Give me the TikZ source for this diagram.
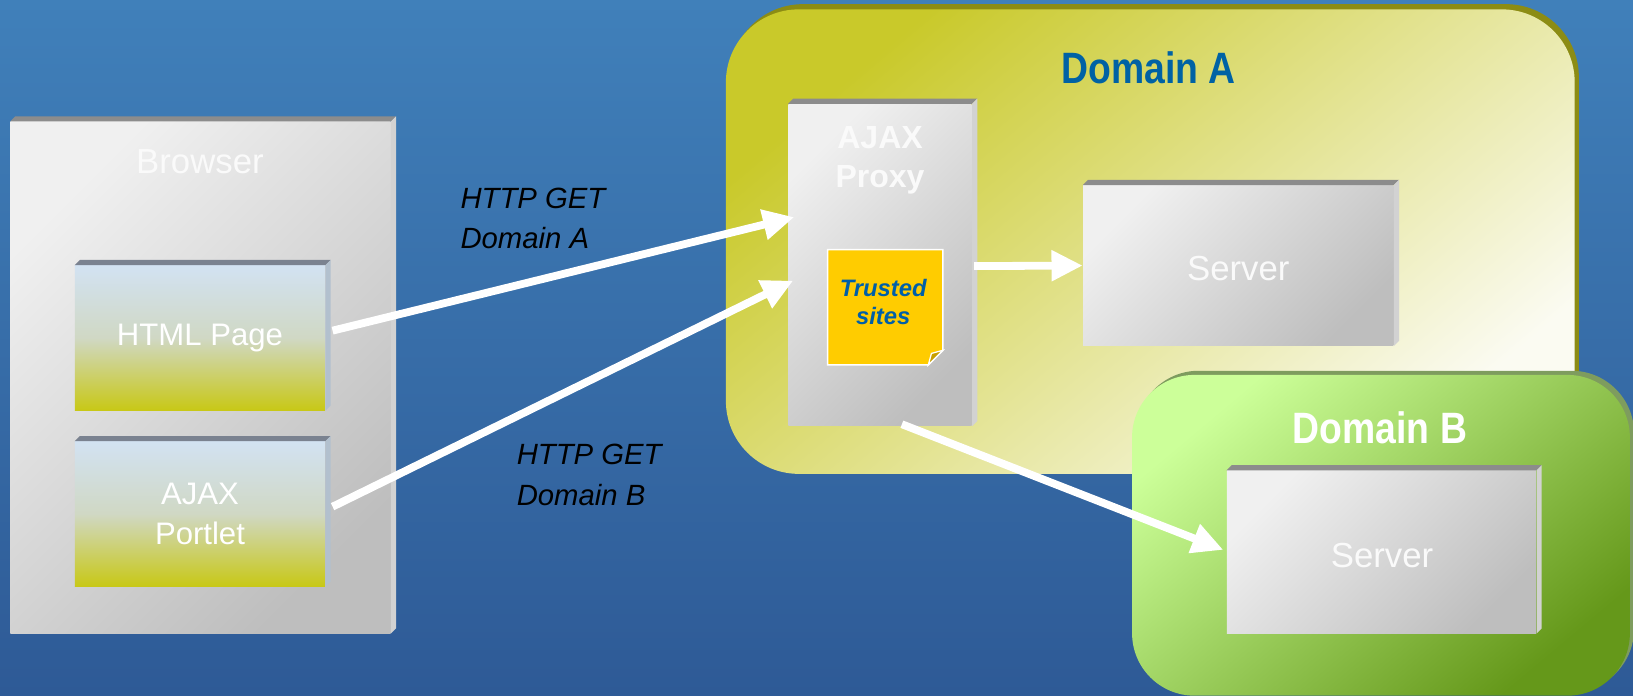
\documentclass[tikz,border=0pt]{standalone}
\usepackage{fontspec}
\setmainfont{Liberation Sans}
\usepackage{graphicx}
\usetikzlibrary{arrows.meta,calc,fit}
\definecolor{bgtop}{HTML}{4080BA}
\definecolor{bgbot}{HTML}{2E5A96}
\definecolor{domAtl}{HTML}{C9C92A}
\definecolor{domAbr}{HTML}{FBFBF2}
\definecolor{domAsh}{HTML}{8C8C14}
\definecolor{domBtl}{HTML}{CCFF99}
\definecolor{domBbr}{HTML}{65981A}
\definecolor{domBsh}{HTML}{7E9C5E}
\definecolor{boxlt}{HTML}{F0F0F0}
\definecolor{boxdk}{HTML}{BEBEBE}
\definecolor{bevtop}{HTML}{8C8C8C}
\definecolor{bevside}{HTML}{D2D2D2}
\definecolor{blutop}{HTML}{D2E2F2}
\definecolor{blumid}{HTML}{D0D8C4}
\definecolor{yelbot}{HTML}{C8C816}
\definecolor{bbevtop}{HTML}{7A8290}
\definecolor{bbevside}{HTML}{B2C0CE}
\definecolor{notefill}{HTML}{FFCC00}
\definecolor{notefold}{HTML}{C8A000}
\definecolor{notetext}{HTML}{005FA8}
\definecolor{domAtext}{HTML}{0062A4}
\newcommand\mybevel[3]{%
  \fill[#2] (#1.north west) -- ($(#1.north west)+(5,-5)$) -- ($(#1.north east)+(5,-5)$) -- (#1.north east) -- cycle;
  \fill[#3] (#1.north east) -- ($(#1.north east)+(5,-5)$) -- ($(#1.south east)+(5,-5)$) -- (#1.south east) -- cycle;}
\begin{document}
\begin{tikzpicture}[x=0.02cm,y=-0.02cm,
  graybox/.style={inner sep=0pt, top color=boxlt, bottom color=boxdk, shading angle=45},
  bluebox/.style={inner sep=0pt, top color=blutop, bottom color=yelbot, middle color=blumid},
  lbl/.style={text=white, align=center, font=\fontsize{17}{21.5}\selectfont},
  srv/.style={text=white!96!gray, font=\fontsize{19}{23}\selectfont},
  domlbl/.style={font=\bfseries\fontsize{24}{28}\selectfont},
  getlbl/.style={anchor=west, align=left, text=black, font=\itshape\fontsize{16}{22}\selectfont},
  arr/.style={draw=white, line width=0.15cm, -{Triangle[length=0.6cm,width=0.56cm]}}]
\useasboundingbox (0,0) rectangle (1568,668);
\shade[top color=bgtop, bottom color=bgbot] (0,0) rectangle (1568,668);
% Domain A
\fill[domAsh, rounded corners=1.4cm] (701,4) rectangle (1516,451);
\node[fit={(697,9)(1512,455)}, inner sep=0pt, rounded corners=1.4cm, top color=domAtl, bottom color=domAbr, shading angle=40] (domA) {};
\node[domlbl, text=domAtext] (domAlbl) at (1103,65) {\scalebox{0.85}[1]{Domain A}};
% Browser
\node[graybox, fit={(10,117)(375,608)}] (browser) {};
\mybevel{browser}{bevtop}{bevside}
\node[srv] (browserlbl) at (192,155) {Browser};
\node[bluebox, fit={(72,255)(312,394)}] (html) {};
\mybevel{html}{bbevtop}{bbevside}
\node[lbl] (htmllbl) at (html.center) {HTML Page};
\node[bluebox, fit={(72,424)(312,563)}] (portlet) {};
\mybevel{portlet}{bbevtop}{bbevside}
\node[lbl] (portletlbl) at (portlet.center) {AJAX\\Portlet};
% Proxy
\node[graybox, fit={(757,100)(933,409)}] (proxy) {};
\mybevel{proxy}{bevtop}{bevside}
\node[text=white!96!gray, align=center, font=\bfseries\fontsize{17.5}{21.5}\selectfont] (proxylbl) at (845,154) {AJAX\\Proxy};
\node[fit={(795,240)(905,350)}, inner sep=0pt] (note) {};
\filldraw[fill=notefill, draw=white, line width=0.9pt] (note.north west) -- (note.north east) -- ($(note.south east)+(0,-14)$) -- ($(note.south east)+(-14,0)$) -- (note.south west) -- cycle;
\filldraw[fill=notefold, draw=white, line width=0.7pt] ($(note.south east)+(0,-14)$) -- ($(note.south east)+(-11,-11)$) -- ($(note.south east)+(-14,0)$) -- cycle;
\node[text=notetext, align=center, font=\bfseries\itshape\fontsize{13}{15.5}\selectfont] (notelbl) at (848,290) {Trusted\\sites};
% Server A
\node[graybox, fit={(1040,178)(1338,332)}] (srvA) {};
\mybevel{srvA}{bevtop}{bevside}
\node[srv] (srvAlbl) at (1189,258) {Server};
% Domain B
\fill[domBsh, rounded corners=1.2cm] (1091,356) rectangle (1569,664);
\node[fit={(1087,360)(1565,668)}, inner sep=0pt, rounded corners=1.2cm, top color=domBtl, bottom color=domBbr, shading angle=40] (domB) {};
\node[domlbl, text=white] (domBlbl) at (1325,411) {\scalebox{0.85}[1]{Domain B}};
\node[graybox, fit={(1178,452)(1475,608)}] (srvB) {};
\mybevel{srvB}{bevtop}{bevside}
\node[srv] (srvBlbl) at (1327,533) {Server};
% labels
\node[getlbl] (getA) at (436,210) {HTTP GET\\Domain A};
\node[getlbl] (getB) at (490,456) {HTTP GET\\Domain B};
% arrows
\draw[arr] ($(html.east)+(7,-7)$) -- ($(proxy.west)+(6,-46)$);
\draw[arr] ($(portlet.east)+(7,-7)$) -- ($(proxy.west)+(5,15)$);
\draw[arr] ($(proxy.east)+(2,1)$) -- (srvA.west);
\draw[arr] ($(proxy.south)+(21,-2)$) -- ($(srvB.west)+(-3,-2)$);
\end{tikzpicture}
\end{document}
